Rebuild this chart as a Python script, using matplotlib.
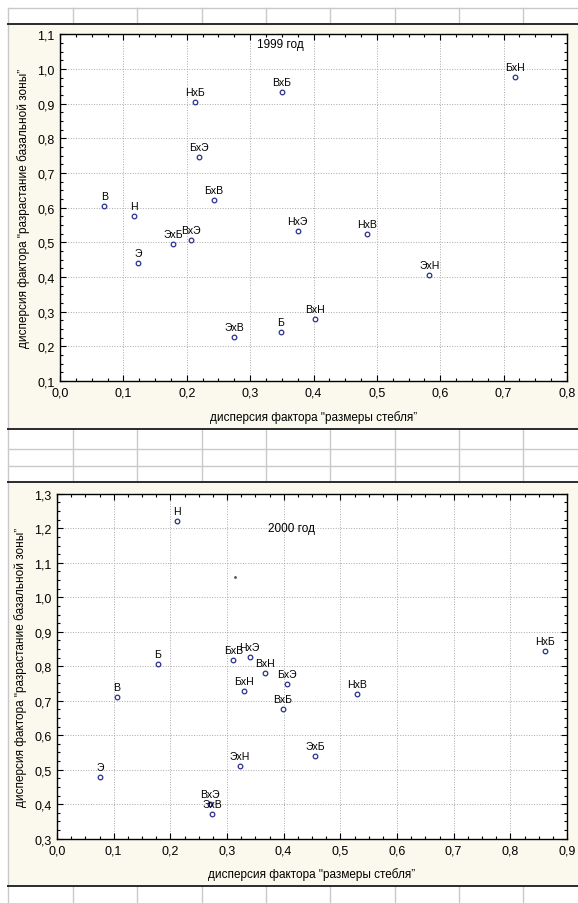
import matplotlib
matplotlib.use("Agg")
import matplotlib.pyplot as plt
from matplotlib.ticker import MultipleLocator, AutoMinorLocator, FuncFormatter
from matplotlib.patches import Rectangle

plt.rcParams['font.family'] = ['Liberation Sans', 'DejaVu Sans']

# ---- 1999 ----
labels_1999 = ['В', 'Н', 'Э', 'Б', 'ЭхБ', 'ВхЭ', 'БхЭ', 'БхВ', 'НхБ', 'ВхБ',
               'НхЭ', 'НхВ', 'ЭхН', 'ВхН', 'ЭхВ', 'БхН']
x_1999 = [0.070, 0.116, 0.123, 0.348, 0.179, 0.206, 0.220, 0.243, 0.213, 0.350,
          0.375, 0.484, 0.583, 0.403, 0.275, 0.718]
y_1999 = [0.605, 0.577, 0.439, 0.240, 0.495, 0.507, 0.745, 0.621, 0.906, 0.934,
          0.533, 0.525, 0.405, 0.278, 0.227, 0.976]

# ---- 2000 ----
labels_2000 = ['Н', 'Б', 'В', 'Э', 'БхВ', 'НхЭ', 'ВхН', 'БхЭ', 'БхН', 'ВхБ',
               'НхВ', 'НхБ', 'ЭхН', 'ЭхБ', 'ВхЭ', 'ЭхВ']
x_2000 = [0.211, 0.178, 0.106, 0.076, 0.311, 0.340, 0.367, 0.406, 0.330, 0.399,
          0.530, 0.861, 0.323, 0.455, 0.270, 0.274]
y_2000 = [1.221, 0.806, 0.711, 0.478, 0.817, 0.827, 0.781, 0.749, 0.727, 0.675,
          0.720, 0.843, 0.512, 0.539, 0.402, 0.372]
stray_2000 = (0.314, 1.058)

xlabel = 'дисперсия фактора "размеры стебля”'
ylabel = 'дисперсия фактора "разрастание базальной зоны”'

W, H = 578, 904
fig = plt.figure(figsize=(W / 100, H / 100), dpi=100)
fig.patch.set_facecolor('white')

# spreadsheet backdrop (pixel coordinates)
bg = fig.add_axes([0, 0, 1, 1], zorder=-5)
bg.set_xlim(0, W)
bg.set_ylim(H, 0)
bg.axis('off')
light = '#c9c9c9'
dark = '#2b2b2b'
cols = [8, 72.5, 137, 201.5, 266, 330, 394.5, 459, 523]
bands = [(9, 25), (430, 483), (887, 904)]
for y0, y1 in bands:
    for c in cols:
        bg.plot([c, c], [y0, y1], color=light, lw=1)
for yy in [9, 450, 467]:
    bg.plot([8, W], [yy, yy], color=light, lw=1)
for y0, y1 in [(25, 430), (483, 887)]:
    bg.add_patch(Rectangle((8, y0), W - 8, y1 - y0, facecolor='#fbf9ee',
                           edgecolor='none'))
    bg.plot([8, 8], [y0, y1], color=light, lw=1)
for yy in [25, 430, 483, 887]:
    bg.plot([8, W], [yy, yy], color=dark, lw=1.4)


def frac(left, right, top, bottom):
    return [left / W, (H - bottom) / H, (right - left) / W, (bottom - top) / H]


comma = FuncFormatter(lambda v, p: f'{v:.1f}'.replace('.', ','))


def setup(ax, xmax, ymin, ymax):
    ax.set_facecolor('white')
    ax.set_xlim(0, xmax)
    ax.set_ylim(ymin, ymax)
    ax.xaxis.set_major_locator(MultipleLocator(0.1))
    ax.yaxis.set_major_locator(MultipleLocator(0.1))
    ax.xaxis.set_minor_locator(AutoMinorLocator(4))
    ax.yaxis.set_minor_locator(AutoMinorLocator(4))
    ax.xaxis.set_major_formatter(comma)
    ax.yaxis.set_major_formatter(comma)
    ax.tick_params(which='both', direction='in', top=True, right=True,
                   width=0.8, colors='black', labelsize=9, pad=4)
    ax.tick_params(which='major', length=4)
    ax.tick_params(which='minor', length=2.5)
    ax.grid(True, which='major', linestyle=':', color='#a8a8a8', lw=0.7)
    for s in ax.spines.values():
        s.set_linewidth(1.0)
        s.set_color('black')
    ax.set_xlabel(xlabel, fontsize=8.5, labelpad=8)
    ax.set_ylabel(ylabel, fontsize=8.5, labelpad=5)


def draw_points(ax, xs, ys, labels):
    ax.scatter(xs, ys, s=11, facecolor='white', edgecolor='#2a2f8c',
               linewidths=0.9, zorder=3)
    for xv, yv, lab in zip(xs, ys, labels):
        ax.annotate(lab, (xv, yv), xytext=(0, 7.2), textcoords='offset points',
                    ha='center', va='center', fontsize=7.6, zorder=4)


ax1 = fig.add_axes(frac(60, 567, 35.3, 382))
setup(ax1, 0.8, 0.1, 1.1)
draw_points(ax1, x_1999, y_1999, labels_1999)
ax1.text(0.347, 1.071, '1999 год', ha='center', va='center', fontsize=8.5)

ax2 = fig.add_axes(frac(57, 567, 494.8, 839.7))
setup(ax2, 0.9, 0.3, 1.3)
draw_points(ax2, x_2000, y_2000, labels_2000)
ax2.scatter([stray_2000[0]], [stray_2000[1]], s=1, color='#555555', zorder=3)
ax2.text(0.414, 1.2, '2000 год', ha='center', va='center', fontsize=8.5)

fig.savefig('out.png', dpi=100, facecolor=fig.get_facecolor())
